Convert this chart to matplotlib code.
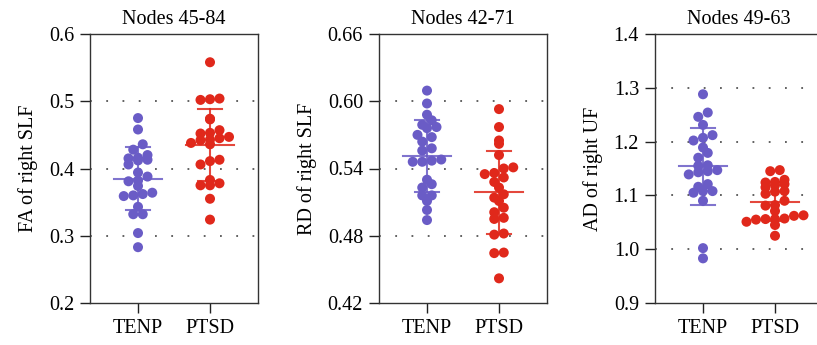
import numpy as np
import matplotlib
matplotlib.use("Agg")
import matplotlib.pyplot as plt
from matplotlib.ticker import FormatStrFormatter

plt.rcParams['font.family'] = ['Liberation Serif', 'DejaVu Serif']

groups = ["TENP", "PTSD"]
titles = ["Nodes 45-84", "Nodes 42-71", "Nodes 49-63"]
ylabels = ["FA of right SLF", "RD of right SLF", "AD of right UF"]

fa_tenp = [0.475, 0.458, 0.436, 0.428, 0.420, 0.416, 0.415, 0.412, 0.413, 0.406,
           0.394, 0.388, 0.382, 0.381, 0.374, 0.362, 0.360, 0.364, 0.359, 0.343,
           0.332, 0.332, 0.304, 0.283]
fa_ptsd = [0.558, 0.503, 0.502, 0.504, 0.474, 0.473, 0.457, 0.453, 0.452, 0.447,
           0.445, 0.443, 0.442, 0.438, 0.436, 0.413, 0.411, 0.406, 0.383, 0.378,
           0.375, 0.375, 0.355, 0.324]
rd_tenp = [0.6095, 0.598, 0.588, 0.583, 0.576, 0.577, 0.579, 0.570, 0.568, 0.564,
           0.558, 0.556, 0.548, 0.547, 0.546, 0.546, 0.530, 0.526, 0.523, 0.516,
           0.516, 0.511, 0.503, 0.494]
rd_ptsd = [0.593, 0.577, 0.565, 0.562, 0.552, 0.541, 0.540, 0.536, 0.535, 0.532,
           0.528, 0.523, 0.517, 0.514, 0.511, 0.505, 0.501, 0.496, 0.495, 0.482,
           0.481, 0.465, 0.4645, 0.442]
ad_tenp = [1.288, 1.254, 1.246, 1.231, 1.212, 1.207, 1.202, 1.189, 1.179, 1.170,
           1.156, 1.155, 1.147, 1.145, 1.143, 1.139, 1.121, 1.116, 1.108, 1.108,
           1.105, 1.090, 1.002, 0.983]
ad_ptsd = [1.145, 1.147, 1.129, 1.124, 1.125, 1.119, 1.121, 1.115, 1.108, 1.107,
           1.103, 1.090, 1.082, 1.081, 1.071, 1.063, 1.062, 1.055, 1.056, 1.057,
           1.056, 1.051, 1.045, 1.025]

# mean and SD
means = [[0.385, 0.435], [0.551, 0.519], [1.154, 1.088]]
sds = [[0.047, 0.054], [0.032, 0.037], [0.072, 0.036]]

yticks = [[0.2, 0.3, 0.4, 0.5, 0.6],
          [0.42, 0.48, 0.54, 0.60, 0.66],
          [0.9, 1.0, 1.1, 1.2, 1.3, 1.4]]
yfmt = ['%.1f', '%.2f', '%.1f']

data = [[fa_tenp, fa_ptsd], [rd_tenp, rd_ptsd], [ad_tenp, ad_ptsd]]
colors = ['#6a5cc6', '#e0281b']

W, H = 817, 345
fig = plt.figure(figsize=(W / 100, H / 100), dpi=100)
lefts = [90, 379, 655]
ax_w, ax_top, ax_bot = 168, 34, 303

bin_h = 8.0    # px, vertical bin for the scatter columns
col_w = 9.5    # px, horizontal step between points in one bin


def columns(ypix):
    # prism-style column scatter: points in the same vertical bin are spread sideways
    xs = np.zeros(len(ypix))
    bins = np.floor(ypix / bin_h).astype(int)
    for b in np.unique(bins):
        idx = np.where(bins == b)[0]
        idx = idx[np.argsort(ypix[idx])]
        n = len(idx)
        xs[idx] = (np.arange(n) - (n - 1) / 2) * col_w
    return xs


for k in range(3):
    ax = fig.add_axes([lefts[k] / W, (H - ax_bot) / H, ax_w / W, (ax_bot - ax_top) / H])
    yt = yticks[k]
    ax.set_ylim(yt[0], yt[-1])
    ax.set_xlim(-48 / 72, 1 + 48 / 72)
    px_per_unit_y = (ax_bot - ax_top) / (yt[-1] - yt[0])
    px_per_unit_x = 72.0
    for g in range(2):
        vals = np.array(data[k][g])
        xs = columns((vals - yt[0]) * px_per_unit_y) / px_per_unit_x + g
        ax.scatter(xs, vals, s=52, color=colors[g], edgecolors='none', zorder=3)
        m, s = means[k][g], sds[k][g]
        ax.plot([g - 0.34, g + 0.34], [m, m], color=colors[g], lw=1.5, zorder=4, alpha=0.85)
        ax.plot([g, g], [m - s, m + s], color=colors[g], lw=1.5, zorder=4, alpha=0.85)
        for yy in (m - s, m + s):
            ax.plot([g - 0.17, g + 0.17], [yy, yy], color=colors[g], lw=1.5, zorder=4, alpha=0.85)
    for yy in yt[1:-1]:
        ax.axhline(yy, color='#555555', lw=1.3, ls=(0, (1, 8)), zorder=1)
    ax.set_yticks(yt)
    ax.yaxis.set_major_formatter(FormatStrFormatter(yfmt[k]))
    ax.set_xticks([0, 1])
    ax.set_xticklabels(groups)
    ax.tick_params(axis='both', direction='out', length=7.5, width=1.0,
                   labelsize=14.5, color='#222222', pad=4)
    for sp in ax.spines.values():
        sp.set_linewidth(1.0)
        sp.set_color('#333333')
    ax.set_ylabel(ylabels[k], fontsize=14.5, labelpad=8)
    ax.set_title(titles[k], fontsize=14.5, pad=7)

fig.savefig("out.png", dpi=100)
